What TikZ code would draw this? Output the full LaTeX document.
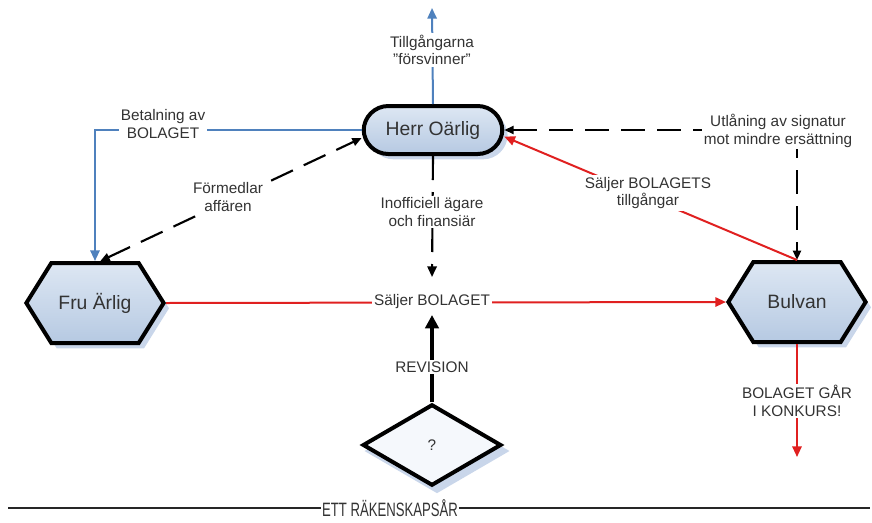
\documentclass[tikz,border=0pt]{standalone}
\usepackage{fontspec}
\setmainfont{Liberation Sans}
\usetikzlibrary{arrows.meta,shapes.geometric,shapes.symbols,shadows}
\definecolor{fillA}{HTML}{DDE7F3}
\definecolor{fillB}{HTML}{B6C9E2}
\definecolor{dfill}{HTML}{F5F8FC}
\definecolor{shad}{HTML}{C9D6EA}
\definecolor{bluel}{HTML}{4F81BD}
\definecolor{redl}{HTML}{E02020}
\definecolor{txt}{HTML}{333333}
\begin{document}
\begin{tikzpicture}[x=0.75pt,y=-0.75pt,
  basebox/.style={draw=black, line width=3pt, text=txt},
  shadowed/.style={drop shadow={fill=shad, draw=none, opacity=1, shadow xshift=4pt, shadow yshift=-4pt}},
  shapebox/.style={basebox, shadowed, top color=fillA, bottom color=fillB,
    font=\fontsize{14.5}{17}\selectfont},
  lbl/.style={fill=white, text=txt, align=center, inner sep=1.5pt,
    font=\fontsize{11.5}{13}\selectfont},
  tip/.style={-{Triangle[length=8pt,width=7pt]}},
  bothtips/.style={{Triangle[length=7pt,width=6pt]}-{Triangle[length=7pt,width=6pt]}},
  dsh/.style={dash pattern=on 18pt off 9pt, line width=1.6pt},
  bluearrow/.style={bluel, line width=1.5pt, tip},
  redarrow/.style={redl, line width=1.5pt, tip},
  hexa/.style={shapebox, signal, signal to=west and east, signal pointer angle=116,
    minimum width=103pt, minimum height=60pt, inner sep=0pt},
  diam/.style={diamond, aspect=1.7, minimum width=104pt, minimum height=61pt, inner sep=0pt}
]
\useasboundingbox (0,0) rectangle (872,522);

% main shapes
\node[shapebox, rectangle, rounded corners=18.5pt, minimum width=104pt, minimum height=36pt] (herr) at (433,130) {Herr Oärlig};
\node[hexa] (fru) at (95,303) {Fru Ärlig};
\node[hexa] (bulvan) at (797,302) {Bulvan};
\node[diam, fill=shad, line width=3pt, draw=shad] (revshadow) at (437,451) {};
\node[diam, basebox, fill=dfill, font=\fontsize{11.5}{13}\selectfont] (rev) at (432,445) {?};

% coordinates
\coordinate (top) at (432,8);
\coordinate (bc) at (fru.north |- herr.west);
\coordinate (inoff) at (432,277);
\coordinate (uc) at (bulvan.north |- herr.east);
\coordinate (revtip) at (432,315);
\coordinate (konk) at (797,457);
\coordinate (bl) at (8,508);
\coordinate (br) at (870,508);

% connectors
\draw[bluearrow] (herr.north) -- (top);
\draw[bluearrow] (herr.west) -- (bc) -- (fru.north);
\draw[dsh, bothtips] ([xshift=4pt]fru.north) -- ([yshift=-6pt]herr.west);
\draw[dsh, tip] (herr.south) -- (inoff);
\draw[dsh, bothtips] (herr.east) -- (uc) -- (bulvan.north);
\draw[redarrow] (bulvan.north) -- ([yshift=-5pt]herr.east);
\draw[redarrow] (fru.east) -- (bulvan.west);
\draw[line width=2.5pt, -{Triangle[length=10pt,width=10pt]}] (rev.north) -- (revtip);
\draw[redarrow] (bulvan.south) -- (konk);
\draw[line width=2.2pt, black!85] (bl) -- (br);

% labels
\node[lbl] (l1) at (432,50) {Tillgångarna\\"försvinner"};
\node[lbl] (l2) at (163,124) {Betalning av\\BOLAGET};
\node[lbl] (l3) at (228,197) {Förmedlar\\affären};
\node[lbl] (l4) at (432,212) {Inofficiell ägare\\och finansiär};
\node[lbl] (l5) at (778,131) {Utlåning av signatur\\mot mindre ersättning};
\node[lbl] (l6) at (648,193) {Säljer BOLAGETS\\tillgångar};
\node[lbl] (l7) at (432,302) {Säljer BOLAGET};
\node[lbl] (l8) at (432,367) {REVISION};
\node[lbl] (l9) at (797,401) {BOLAGET GÅR\\I KONKURS!};
\node[fill=white, text=txt, inner sep=1pt] (year) at (390,508)
  {\scalebox{0.68}[1]{\fontsize{14.5}{17}\selectfont ETT RÄKENSKAPSÅR}};
\end{tikzpicture}
\end{document}
